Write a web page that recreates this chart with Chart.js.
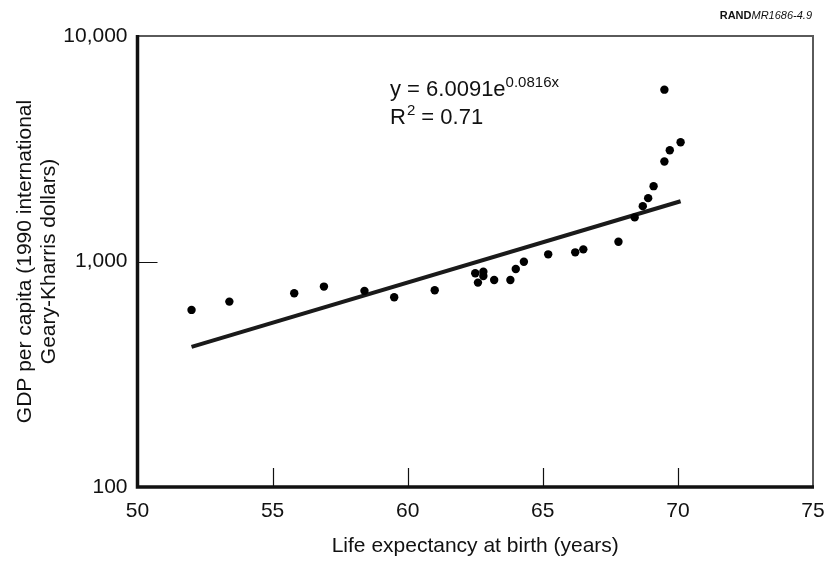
<!DOCTYPE html>
<html>
<head>
<meta charset="utf-8">
<script src="https://cdn.jsdelivr.net/npm/chart.js@4.4.1/dist/chart.umd.min.js"></script>
<style>
  html, body { margin: 0; padding: 0; background: #fff; }
  #wrap { width: 827px; height: 561px; }
</style>
</head>
<body>
<div id="wrap"><canvas id="chart" width="827" height="561"></canvas></div>
<script>
/* ====================
   DATA
==================== */
const lifeExp = [52.0, 53.4, 55.8, 56.9, 58.4, 59.5, 61.0, 62.5, 62.6, 62.8, 62.8, 63.2, 63.8, 64.0,
                 64.3, 65.2, 66.2, 66.5, 67.8, 68.4, 68.7, 68.9, 69.1, 69.5, 69.7, 70.1, 69.5];
const gdpPerCapita = [610, 664, 723, 774, 741, 694, 746, 887, 806, 901, 863, 828, 828, 926,
                      998, 1076, 1098, 1132, 1223, 1569, 1760, 1910, 2158, 2775, 3115, 3378, 5781];

// exponential fit drawn as a straight segment on the log axis
const trendX = [52.0, 70.1];
const trendY = [418, 1850];

const xTicks = [50, 55, 60, 65, 70, 75];
const yTicks = [100, 1000, 10000];

const FONT = "'Liberation Sans', Arial, Helvetica, sans-serif";

/* ====================
   FRAME + TEXT PLUGIN
==================== */
const framePlugin = {
  id: "frame",
  afterDraw(chart) {
    const { ctx, chartArea: a, scales } = chart;
    ctx.save();

    // top + right border, thin gray
    ctx.strokeStyle = "#5a5a5a";
    ctx.lineWidth = 2;
    ctx.beginPath();
    ctx.moveTo(a.left, a.top);
    ctx.lineTo(a.right, a.top);
    ctx.lineTo(a.right, a.bottom);
    ctx.stroke();

    // left + bottom axis, heavy black
    ctx.strokeStyle = "#111";
    ctx.lineWidth = 3.5;
    ctx.beginPath();
    ctx.moveTo(a.left, a.top - 1);
    ctx.lineTo(a.left, a.bottom);
    ctx.lineTo(a.right + 1, a.bottom);
    ctx.stroke();

    // inward tick marks
    ctx.lineWidth = 1.2;
    ctx.beginPath();
    xTicks.slice(1, -1).forEach(v => {
      const px = Math.round(scales.x.getPixelForValue(v)) + 0.5;
      ctx.moveTo(px, a.bottom);
      ctx.lineTo(px, a.bottom - 19);
    });
    yTicks.slice(1, -1).forEach(v => {
      const py = Math.round(scales.y.getPixelForValue(v)) + 0.5;
      ctx.moveTo(a.left, py);
      ctx.lineTo(a.left + 20, py);
    });
    ctx.stroke();

    // fit equation
    ctx.fillStyle = "#111";
    ctx.textBaseline = "alphabetic";
    ctx.textAlign = "left";
    const ex = 390, ey = 96;
    ctx.font = `22px ${FONT}`;
    const main = "y = 6.0091e";
    ctx.fillText(main, ex, ey);
    const w1 = ctx.measureText(main).width;
    ctx.font = `15px ${FONT}`;
    ctx.fillText("0.0816x", ex + w1, ey - 9);

    const ry = 124;
    ctx.font = `22px ${FONT}`;
    ctx.fillText("R", ex, ry);
    const wR = ctx.measureText("R").width;
    ctx.font = `15px ${FONT}`;
    ctx.fillText("2", ex + wR + 1, ry - 9);
    const w2 = ctx.measureText("2").width;
    ctx.font = `22px ${FONT}`;
    ctx.fillText(" = 0.71", ex + wR + 1 + w2, ry);

    // source tag top right
    ctx.font = `bold 11px ${FONT}`;
    const tagA = "RAND";
    const wa = ctx.measureText(tagA).width;
    ctx.font = `italic 11px ${FONT}`;
    const tagB = "MR1686-4.9";
    const wb = ctx.measureText(tagB).width;
    const tx = 812 - wa - wb, ty = 19;
    ctx.font = `bold 11px ${FONT}`;
    ctx.fillText(tagA, tx, ty);
    ctx.font = `italic 11px ${FONT}`;
    ctx.fillText(tagB, tx + wa, ty);

    ctx.restore();
  }
};

/* ====================
   CHART
==================== */
const points = lifeExp.map((x, i) => ({ x, y: gdpPerCapita[i] }));
const trend = trendX.map((x, i) => ({ x, y: trendY[i] }));

new Chart(document.getElementById("chart"), {
  type: "scatter",
  data: {
    datasets: [
      {
        type: "line",
        data: trend,
        borderColor: "#1a1a1a",
        borderWidth: 4,
        pointRadius: 0,
        fill: false,
        order: 2
      },
      {
        data: points,
        backgroundColor: "#000",
        borderColor: "#000",
        borderWidth: 0,
        pointRadius: 4.2,
        order: 1
      }
    ]
  },
  options: {
    responsive: false,
    animation: false,
    events: [],
    layout: { padding: { top: 36, right: 14, left: 0, bottom: 0 } },
    plugins: {
      legend: { display: false },
      tooltip: { enabled: false }
    },
    scales: {
      x: {
        type: "linear",
        min: 50,
        max: 75,
        afterFit: s => { s.height = 74; s.paddingLeft = 0; s.paddingRight = 0; },
        afterBuildTicks: s => { s.ticks = xTicks.map(v => ({ value: v })); },
        grid: { display: false, drawTicks: false },
        border: { display: false },
        ticks: {
          padding: 12,
          color: "#111",
          font: { family: FONT, size: 21 }
        },
        title: {
          display: true,
          text: "Life expectancy at birth (years)",
          color: "#111",
          font: { family: FONT, size: 21 },
          padding: { top: 0, bottom: 2 }
        }
      },
      y: {
        type: "logarithmic",
        min: 100,
        max: 10000,
        afterFit: s => { s.width = 137.5; s.paddingTop = 0; s.paddingBottom = 0; },
        afterBuildTicks: s => { s.ticks = yTicks.map(v => ({ value: v })); },
        grid: { display: false, drawTicks: false },
        border: { display: false },
        ticks: {
          padding: 10,
          color: "#111",
          font: { family: FONT, size: 21 },
          callback: v => v.toLocaleString("en-US")
        },
        title: {
          display: true,
          text: ["GDP per capita (1990 international", "Geary-Kharris dollars)"],
          color: "#111",
          font: { family: FONT, size: 21, lineHeight: 1.15 },
          padding: { top: 13, bottom: 0 }
        }
      }
    }
  },
  plugins: [framePlugin]
});
</script>
</body>
</html>
